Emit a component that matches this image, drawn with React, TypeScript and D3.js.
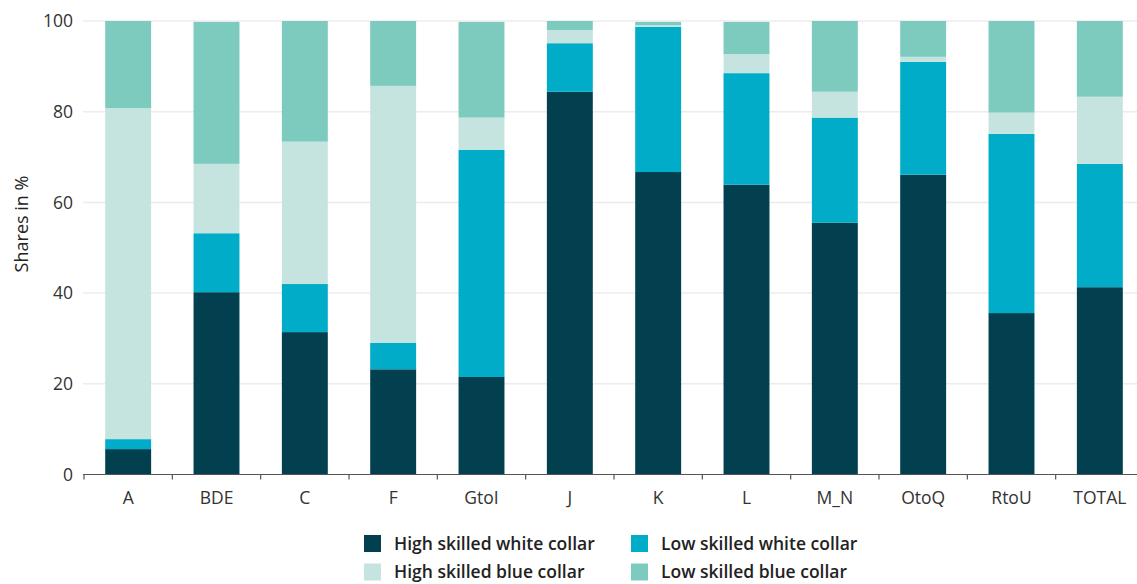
import React from "react";
import * as d3 from "d3";

const categories = ["A", "BDE", "C", "F", "GtoI", "J", "K", "L", "M_N", "OtoQ", "RtoU", "TOTAL"];
const highSkilledWhite = [5.6, 40.2, 31.4, 23.2, 21.5, 84.4, 66.7, 63.9, 55.5, 66.1, 35.6, 41.3];
const lowSkilledWhite = [2.2, 13.0, 10.6, 5.8, 50.1, 10.7, 32.0, 24.6, 23.2, 24.9, 39.5, 27.2];
const highSkilledBlue = [73.0, 15.3, 31.4, 56.7, 7.1, 2.9, 0.4, 4.2, 5.7, 1.1, 4.7, 14.8];
const lowSkilledBlue = [19.2, 31.3, 26.6, 14.3, 21.1, 2.0, 0.7, 7.1, 15.6, 7.9, 20.2, 16.7];
const yTicks = [0, 20, 40, 60, 80, 100];

const seriesNames = [
  "High skilled white collar",
  "Low skilled white collar",
  "High skilled blue collar",
  "Low skilled blue collar",
];
const seriesColors = ["#02404f", "#00acc7", "#c6e4df", "#7dcbbe"];
const seriesValues = [highSkilledWhite, lowSkilledWhite, highSkilledBlue, lowSkilledBlue];

const W = 1137;
const H = 584;
const FONT = "'Open Sans', 'Noto Sans', sans-serif";

export default function App() {
  const x = d3.scaleBand<string>().domain(categories).range([84, 1144]).paddingInner(0.48).paddingOuter(0.24);
  const y = d3.scaleLinear().domain([0, 100]).range([474.5, 21]);

  const rows = categories.map((c, i) => {
    const r: any = { cat: c };
    seriesNames.forEach((s, k) => (r[s] = seriesValues[k][i]));
    return r;
  });
  const stacked = d3.stack<any>().keys(seriesNames)(rows);

  const step = x.step();
  const boundaries = categories.map((c) => (x(c) as number) - (x.paddingInner() * step) / 2);

  const legendItems = [
    { name: seriesNames[0], color: seriesColors[0], lx: 364, ly: 543.5 },
    { name: seriesNames[1], color: seriesColors[1], lx: 631, ly: 543.5 },
    { name: seriesNames[2], color: seriesColors[2], lx: 364, ly: 572 },
    { name: seriesNames[3], color: seriesColors[3], lx: 631, ly: 572 },
  ];

  return (
    <svg width={W} height={H} style={{ position: "absolute", left: 0, top: 0, fontFamily: FONT }}>
      <rect width={W} height={H} fill="#fff" />
      {yTicks.map((t) => (
        <g key={t}>
          {t > 0 && <line x1={83} x2={W} y1={y(t)} y2={y(t)} stroke="#ececec" strokeWidth={1.5} />}
          <text x={73} y={y(t)} dy="0.35em" textAnchor="end" fontSize={17.5} fill="#333">
            {t}
          </text>
        </g>
      ))}
      <text transform={`translate(28,224) rotate(-90)`} textAnchor="middle" fontSize={18} fill="#222">
        Shares in %
      </text>
      {stacked.map((layer, k) => (
        <g key={layer.key} fill={seriesColors[k]}>
          {layer.map((d, i) => (
            <rect
              key={categories[i]}
              x={x(categories[i])}
              width={x.bandwidth()}
              y={y(d[1])}
              height={y(d[0]) - y(d[1])}
            />
          ))}
        </g>
      ))}
      <line x1={83} x2={W} y1={y(0)} y2={y(0)} stroke="#555" strokeWidth={1.2} />
      {boundaries.map((b, i) => (
        <line key={i} x1={b} x2={b} y1={y(0)} y2={y(0) + 5} stroke="#555" strokeWidth={1.2} />
      ))}
      {categories.map((c) => (
        <text key={c} x={(x(c) as number) + x.bandwidth() / 2} y={504} textAnchor="middle" fontSize={17.5} fill="#333">
          {c}
        </text>
      ))}
      {legendItems.map((l) => (
        <g key={l.name}>
          <rect x={l.lx} y={l.ly - 8.5} width={17} height={17} fill={l.color} />
          <text x={l.lx + 30} y={l.ly} dy="0.35em" fontSize={17.5} fontWeight={600} fill="#222">
            {l.name}
          </text>
        </g>
      ))}
    </svg>
  );
}
